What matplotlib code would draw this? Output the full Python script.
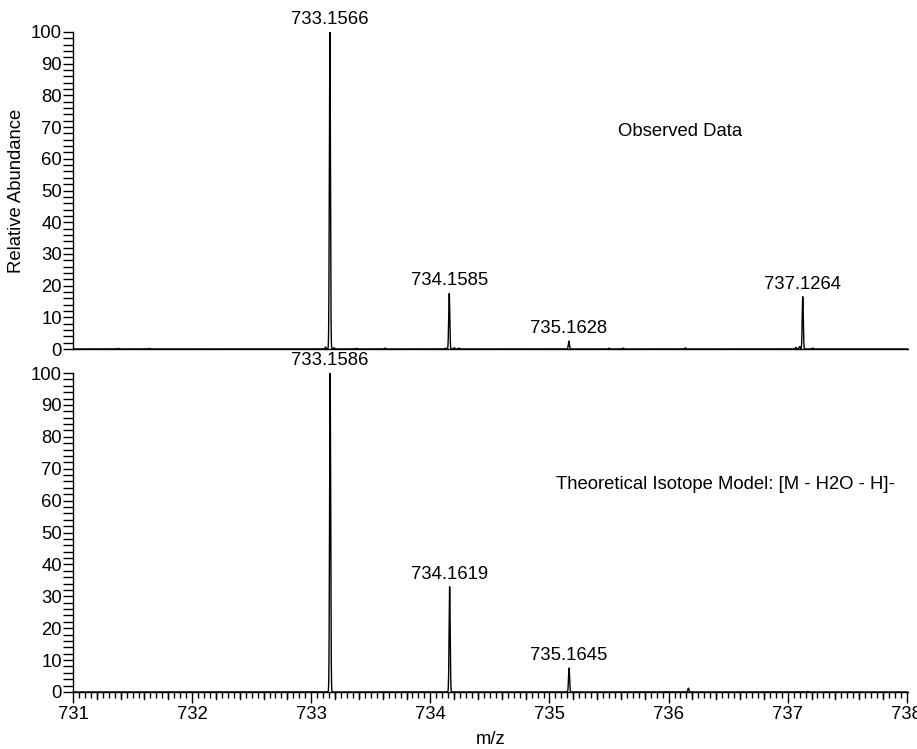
import numpy as np
import matplotlib
matplotlib.use("Agg")
import matplotlib.pyplot as plt
from matplotlib.ticker import MultipleLocator

plt.rcParams['font.family'] = ['Liberation Sans', 'DejaVu Sans']

# Observed spectrum: centroids (m/z) and relative abundances
obs_mz = [733.1566, 734.1585, 735.1628, 737.1264]
obs_int = [100.0, 17.5, 2.5, 16.5]
obs_labels = ["733.1566", "734.1585", "735.1628", "737.1264"]
# small background signals in the observed trace
obs_minor_mz = [731.38, 731.64, 733.12, 733.19, 733.38, 733.62, 734.13, 734.20, 734.24,
                735.50, 735.62, 736.14, 737.07, 737.10, 737.21]
obs_minor_int = [0.2, 0.2, 0.6, 0.4, 0.2, 0.3, 0.3, 0.4, 0.3,
                 0.3, 0.3, 0.4, 0.5, 0.8, 0.3]

# Theoretical isotope model
theo_mz = [733.1586, 734.1619, 735.1645, 736.1660, 737.1680]
theo_int = [100.0, 33.0, 7.5, 1.2, 0.2]
theo_labels = ["733.1586", "734.1619", "735.1645"]

xmin, xmax = 731.0, 738.0
sigma = 0.0045
x = np.linspace(xmin, xmax + 0.03, 40000)


def profile(centers, heights, width=sigma):
    y = np.zeros_like(x)
    for c, h in zip(centers, heights):
        y += h * np.exp(-0.5 * ((x - c) / width) ** 2)
    return y


y_obs = profile(obs_mz, obs_int) + profile(obs_minor_mz, obs_minor_int)
y_theo = profile(theo_mz, theo_int)

W, H = 917, 749
fig = plt.figure(figsize=(W / 100, H / 100), dpi=100)
left = 73 / W
width = (908 - 73) / W
ax1 = fig.add_axes([left, 1 - 349 / H, width, 317 / H])
ax2 = fig.add_axes([left, 1 - 692 / H, width, 319 / H])

fs = 13.3
for ax in (ax1, ax2):
    ax.set_xlim(xmin, xmax + 0.01)
    ax.set_ylim(0, 100)
    ax.spines['top'].set_visible(False)
    ax.spines['right'].set_visible(False)
    for s in ('left', 'bottom'):
        ax.spines[s].set_linewidth(1.0)
    ax.yaxis.set_major_locator(MultipleLocator(10))
    ax.yaxis.set_minor_locator(MultipleLocator(2))
    ax.tick_params(axis='y', which='major', length=7, width=1, labelsize=fs, pad=1)
    ax.tick_params(axis='y', which='minor', length=7, width=1)

ax1.plot(x, y_obs, color='black', lw=1.0)
ax2.plot(x, y_theo, color='black', lw=1.0)

ax1.tick_params(axis='x', which='both', bottom=False, labelbottom=False)
ax2.xaxis.set_major_locator(MultipleLocator(1))
ax2.xaxis.set_minor_locator(MultipleLocator(0.05))
ax2.tick_params(axis='x', which='major', length=8, width=1, labelsize=fs, pad=2)
ax2.tick_params(axis='x', which='minor', length=4, width=1)

# longer ticks every 0.2
for t in np.arange(731.2, 738.0, 0.2):
    if abs(t - round(t)) > 1e-6:
        ax2.plot([t, t], [0, -2.1], color='black', lw=1.0, clip_on=False)

for ax, mzs, hs, labs in ((ax1, obs_mz, obs_int, obs_labels),
                          (ax2, theo_mz, theo_int, theo_labels)):
    for mz, h, lab in zip(mzs, hs, labs):
        ax.annotate(lab, xy=(mz, h), xytext=(0, 3), textcoords='offset points',
                    ha='center', va='bottom', fontsize=fs, annotation_clip=False)

ax1.text(736.10, 68.5, "Observed Data", ha='center', va='center', fontsize=fs)
ax2.text(736.48, 65, "Theoretical Isotope Model: [M - H2O - H]-",
         ha='center', va='center', fontsize=fs)

ax1.set_ylabel("Relative Abundance", fontsize=fs, labelpad=4)
ax2.set_xlabel("m/z", fontsize=fs, labelpad=6)

fig.savefig("out.png", dpi=100)
